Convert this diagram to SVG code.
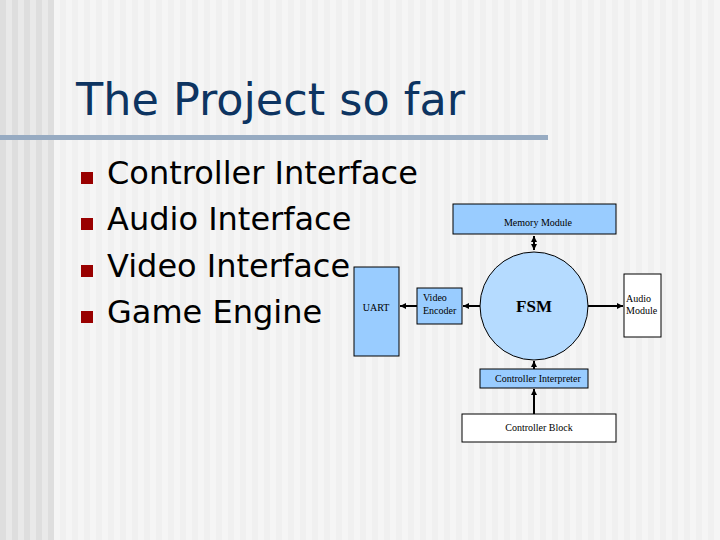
<svg xmlns="http://www.w3.org/2000/svg" width="720" height="540" viewBox="0 0 720 540">
<defs>
<pattern id="bgMain" x="0" y="0" width="12" height="540" patternUnits="userSpaceOnUse">
<rect x="0" y="0" width="6" height="540" fill="#f0f0f0"/>
<rect x="6" y="0" width="6" height="540" fill="#f5f5f5"/>
</pattern>
<pattern id="bgLeft" x="0" y="0" width="12" height="540" patternUnits="userSpaceOnUse">
<rect x="0" y="0" width="6" height="540" fill="#dedede"/>
<rect x="6" y="0" width="6" height="540" fill="#e9e9e9"/>
</pattern>
<marker id="ah" viewBox="0 0 6 6" refX="6" refY="3" markerWidth="6" markerHeight="6" markerUnits="userSpaceOnUse" orient="auto-start-reverse">
<path d="M0,0 L6,3 L0,6 Z" fill="#000"/>
</marker>
</defs>
<style>
.title{font-family:"DejaVu Sans",Verdana,sans-serif;font-size:44.5px;fill:#0d3461}
.bul{font-family:"DejaVu Sans",Verdana,sans-serif;font-size:32px;fill:#000}
.bsq{fill:#990000}
.blue{fill:#99ccff;stroke:#000;stroke-width:1}
.white{fill:#ffffff;stroke:#000;stroke-width:1}
.lbl{font-family:"Liberation Serif","Times New Roman",serif;font-size:10px;fill:#000}
.conn{stroke:#000;stroke-width:2;fill:none}
</style>
<rect x="0" y="0" width="720" height="540" fill="url(#bgMain)"/>
<rect x="0" y="0" width="54" height="540" fill="url(#bgLeft)"/>
<text class="title" x="76" y="115">The Project so far</text>
<rect x="0" y="135" width="548" height="5" fill="#97abc2"/>
<g id="bullets">
<rect class="bsq" x="81" y="172" width="12" height="12"/>
<text class="bul" x="107" y="184">Controller Interface</text>
<rect class="bsq" x="81" y="218" width="12" height="12"/>
<text class="bul" x="107" y="230">Audio Interface</text>
<rect class="bsq" x="81" y="265" width="12" height="12"/>
<text class="bul" x="107" y="277">Video Interface</text>
<rect class="bsq" x="81" y="311" width="12" height="12"/>
<text class="bul" x="107" y="323">Game Engine</text>
</g>
<g id="connectors">
<line class="conn" x1="534" y1="236" x2="534" y2="250" stroke-width="3" marker-start="url(#ah)" marker-end="url(#ah)"/>
<line class="conn" x1="480" y1="306" x2="463" y2="306" marker-end="url(#ah)"/>
<line class="conn" x1="417" y1="306" x2="400" y2="306" marker-end="url(#ah)"/>
<line class="conn" x1="588" y1="306" x2="623" y2="306" marker-end="url(#ah)"/>
<line class="conn" x1="534" y1="369" x2="534" y2="361" marker-end="url(#ah)"/>
<line class="conn" x1="534" y1="414" x2="534" y2="389" marker-end="url(#ah)"/>
</g>
<g id="memory">
<rect class="blue" x="453" y="204" width="163" height="30"/>
<text class="lbl" x="538" y="226" text-anchor="middle">Memory Module</text>
</g>
<g id="fsm">
<circle cx="534" cy="306" r="54" fill="#b5dbff" stroke="#000" stroke-width="1"/>
<text x="534" y="312" text-anchor="middle" font-family="Liberation Serif,'Times New Roman',serif" font-weight="bold" font-size="17">FSM</text>
</g>
<g id="uart">
<rect class="blue" x="354" y="267" width="45" height="89"/>
<text class="lbl" x="376" y="311" text-anchor="middle">UART</text>
</g>
<g id="video">
<rect class="blue" x="417" y="288" width="45" height="36"/>
<text class="lbl" x="423" y="301">Video</text>
<text class="lbl" x="423" y="314">Encoder</text>
</g>
<g id="audio">
<rect class="white" x="624" y="274" width="37" height="63"/>
<text class="lbl" x="626" y="302">Audio</text>
<text class="lbl" x="626" y="314">Module</text>
</g>
<g id="interp">
<rect class="blue" x="480" y="369" width="108" height="19"/>
<text class="lbl" x="538" y="382" text-anchor="middle">Controller Interpreter</text>
</g>
<g id="block">
<rect class="white" x="462" y="414" width="154" height="28"/>
<text class="lbl" x="539" y="431" text-anchor="middle">Controller Block</text>
</g>
</svg>
